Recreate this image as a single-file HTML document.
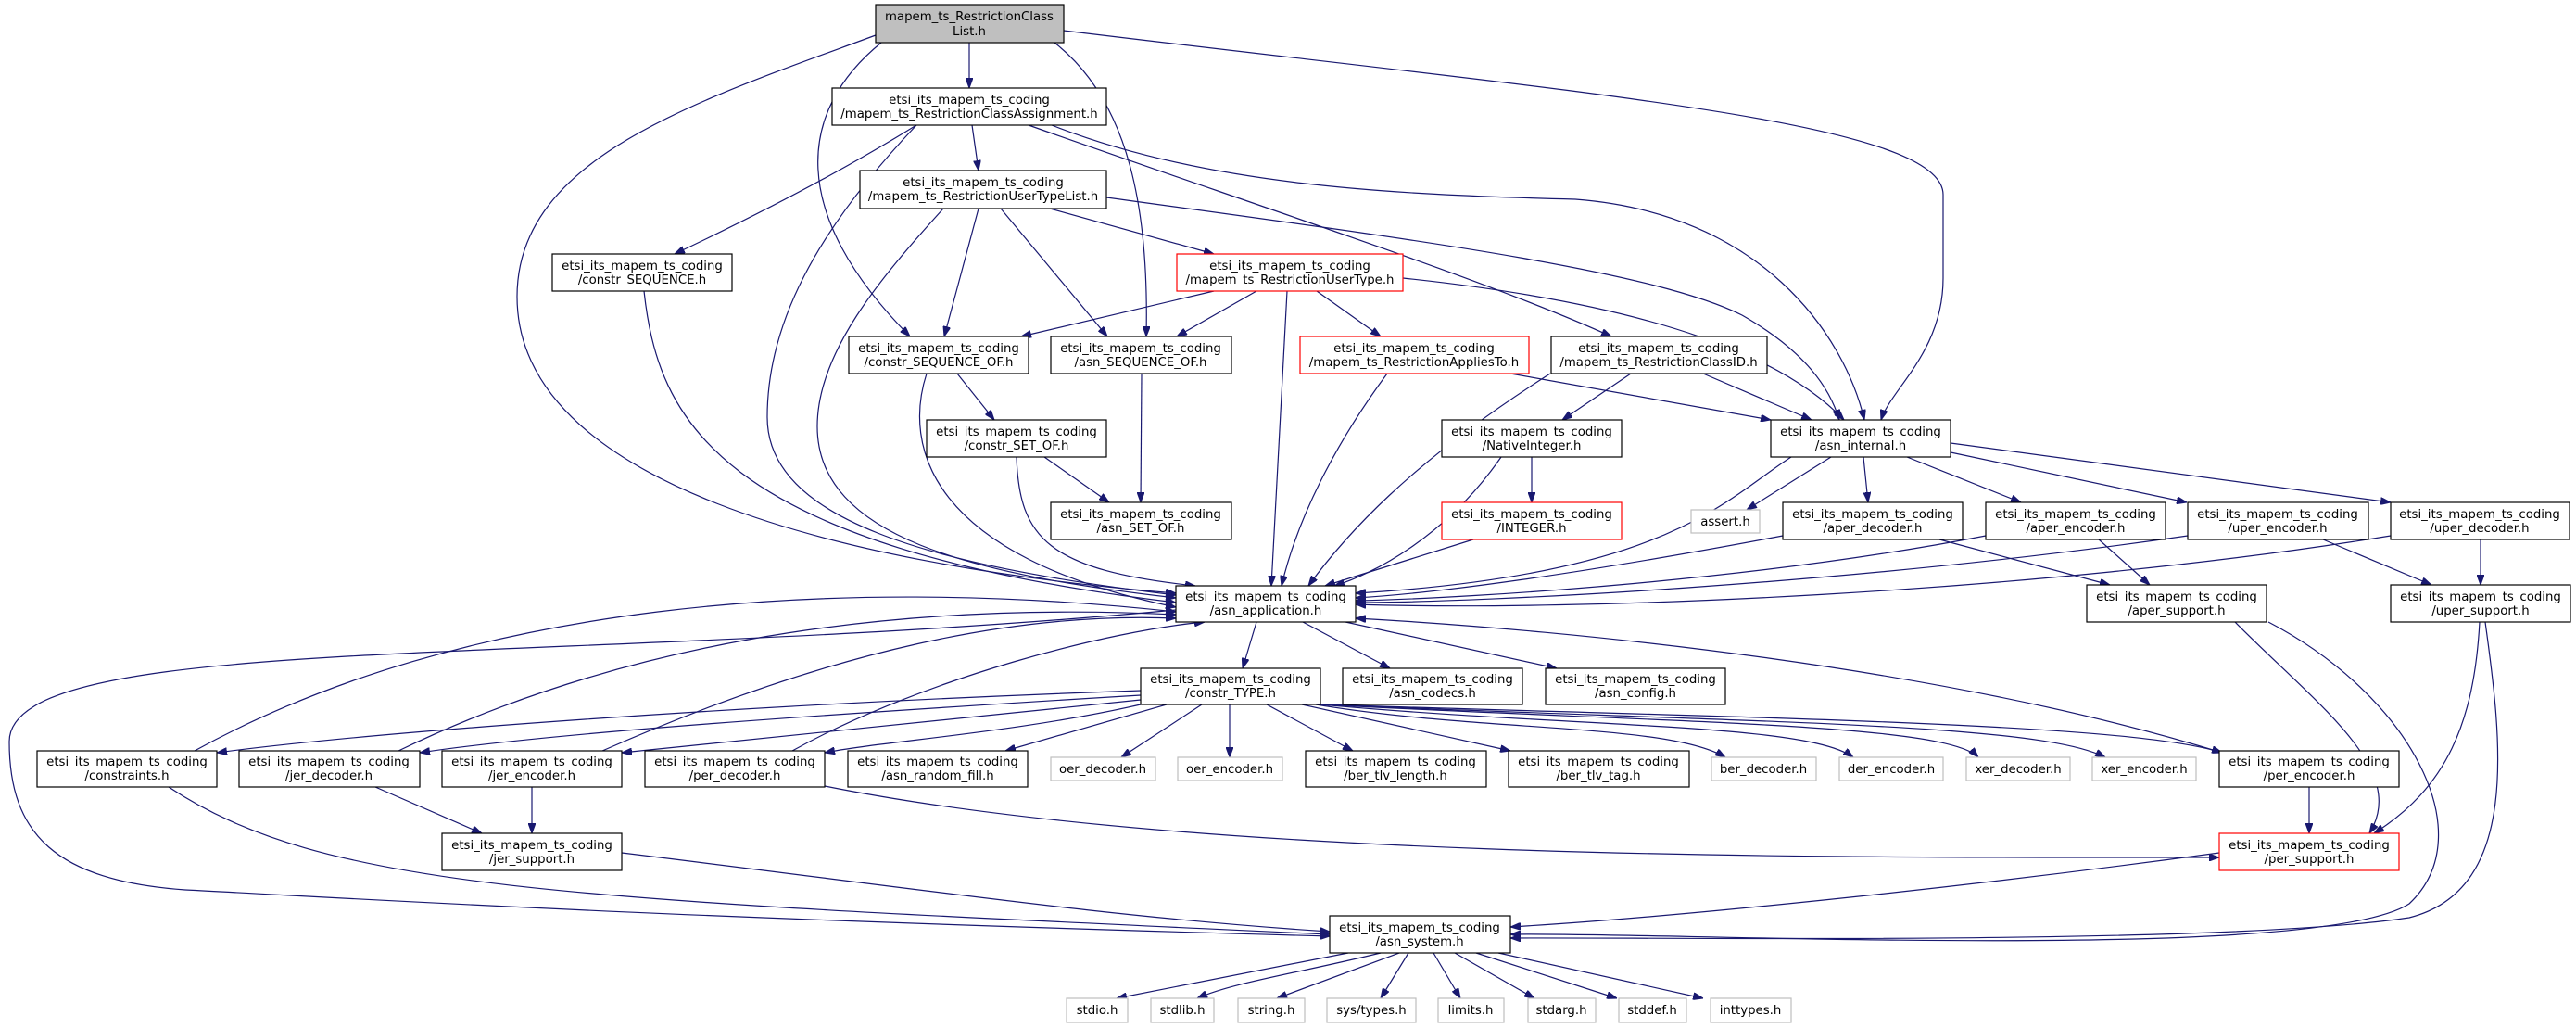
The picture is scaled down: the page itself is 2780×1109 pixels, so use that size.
<!DOCTYPE html>
<html><head><meta charset="utf-8"><style>
html,body{margin:0;padding:0;background:#fff;}
svg{display:block;}
text{font-family:"DejaVu Sans","Liberation Sans",sans-serif;font-size:13.3px;fill:#000;}
.n{fill:#fff;stroke:#000;stroke-width:1.2;}
.g{fill:#fff;stroke:#bfbfbf;stroke-width:1.2;}
.r{fill:#fff;stroke:#ff0000;stroke-width:1.2;}
.root{fill:#bfbfbf;stroke:#000;stroke-width:1.2;}
.e path{fill:none;stroke:#191970;stroke-width:1.2;}
</style></head><body>
<svg width="2780" height="1109" viewBox="0 0 2780 1109" xmlns="http://www.w3.org/2000/svg">
<defs><marker id="a" markerWidth="11" markerHeight="8" refX="11" refY="4" orient="auto" markerUnits="userSpaceOnUse"><path d="M0,0L11,4L0,8z" fill="#191970" stroke="#191970"/></marker></defs>
<g class="e">
<path marker-end="url(#a)" d="M1046,46 L1046,95"/>
<path marker-end="url(#a)" d="M945,38 C750,110 558,170 558,320 C558,520 900,610 1269,640"/>
<path marker-end="url(#a)" d="M951,46 C860,120 850,230 982,363"/>
<path marker-end="url(#a)" d="M1138,46 C1220,110 1240,230 1237,363"/>
<path marker-end="url(#a)" d="M1148,33 C1700,100 2097,130 2097,210 L2097,300 C2097,380 2040,420 2030,453"/>
<path marker-end="url(#a)" d="M989,135 C900,190 800,240 728,274"/>
<path marker-end="url(#a)" d="M989,135 C880,250 828,350 828,450 C828,560 1000,610 1269,642"/>
<path marker-end="url(#a)" d="M1049,135 L1056,184"/>
<path marker-end="url(#a)" d="M1110,135 C1350,220 1600,300 1739,363"/>
<path marker-end="url(#a)" d="M1135,135 C1300,200 1500,210 1700,215 C1900,230 1990,360 2012,453"/>
<path marker-end="url(#a)" d="M1018,225 C950,300 882,380 882,460 C882,580 1050,620 1269,645"/>
<path marker-end="url(#a)" d="M1056,225 L1019,363"/>
<path marker-end="url(#a)" d="M1080,225 L1195,363"/>
<path marker-end="url(#a)" d="M1133,225 L1310,274"/>
<path marker-end="url(#a)" d="M1194,213 C1500,255 1780,290 1880,340 C1950,380 1975,420 1985,453"/>
<path marker-end="url(#a)" d="M1310,314 L1102,363"/>
<path marker-end="url(#a)" d="M1356,314 L1270,363"/>
<path marker-end="url(#a)" d="M1389,314 L1372,632"/>
<path marker-end="url(#a)" d="M1421,314 L1490,363"/>
<path marker-end="url(#a)" d="M1514,300 C1800,330 1930,390 1990,453"/>
<path marker-end="url(#a)" d="M695,314 C710,450 770,590 1269,650"/>
<path marker-end="url(#a)" d="M1033,403 L1073,453"/>
<path marker-end="url(#a)" d="M1000,403 C975,480 1000,600 1269,655"/>
<path marker-end="url(#a)" d="M1232,403 L1231,542"/>
<path marker-end="url(#a)" d="M1127,493 L1197,542"/>
<path marker-end="url(#a)" d="M1097,493 C1100,580 1130,615 1290,632"/>
<path marker-end="url(#a)" d="M1497,403 C1440,480 1400,560 1383,632"/>
<path marker-end="url(#a)" d="M1630,403 L1911,453"/>
<path marker-end="url(#a)" d="M1673,403 C1520,500 1450,580 1412,632"/>
<path marker-end="url(#a)" d="M1760,403 L1686,453"/>
<path marker-end="url(#a)" d="M1838,403 L1955,453"/>
<path marker-end="url(#a)" d="M1653,493 L1653,542"/>
<path marker-end="url(#a)" d="M1620,493 C1560,580 1480,620 1440,632"/>
<path marker-end="url(#a)" d="M1590,582 L1430,632"/>
<path marker-end="url(#a)" d="M1933,493 C1860,540 1800,620 1463,640"/>
<path marker-end="url(#a)" d="M1976,493 L1885,550"/>
<path marker-end="url(#a)" d="M2011,493 L2016,542"/>
<path marker-end="url(#a)" d="M2058,493 L2181,542"/>
<path marker-end="url(#a)" d="M2105,488 L2360,542"/>
<path marker-end="url(#a)" d="M2105,478 L2580,542"/>
<path marker-end="url(#a)" d="M1924,578 C1700,620 1550,640 1463,645"/>
<path marker-end="url(#a)" d="M2093,582 L2277,631"/>
<path marker-end="url(#a)" d="M2143,578 C1900,625 1600,645 1463,648"/>
<path marker-end="url(#a)" d="M2265,582 L2320,631"/>
<path marker-end="url(#a)" d="M2361,578 C2000,630 1600,650 1463,650"/>
<path marker-end="url(#a)" d="M2507,582 L2624,631"/>
<path marker-end="url(#a)" d="M2580,578 C2200,640 1700,660 1463,652"/>
<path marker-end="url(#a)" d="M2677,582 L2677,631"/>
<path marker-end="url(#a)" d="M2412,671 C2500,760 2600,830 2557,899"/>
<path marker-end="url(#a)" d="M2448,671 C2600,750 2680,900 2600,975 C2500,1040 1800,1005 1630,1008"/>
<path marker-end="url(#a)" d="M2676,671 C2670,780 2640,850 2562,899"/>
<path marker-end="url(#a)" d="M2682,671 C2700,800 2720,960 2600,990 C2400,1020 1800,1011 1630,1012"/>
<path marker-end="url(#a)" d="M1356,671 L1341,721"/>
<path marker-end="url(#a)" d="M1406,671 L1500,721"/>
<path marker-end="url(#a)" d="M1452,671 L1680,721"/>
<path marker-end="url(#a)" d="M1269,658 C600,720 10,680 10,800 C10,900 60,950 200,960 C400,970 700,990 1435,1010"/>
<path marker-end="url(#a)" d="M1231,745 C800,760 400,790 234,812"/>
<path marker-end="url(#a)" d="M1231,750 C900,770 600,790 453,812"/>
<path marker-end="url(#a)" d="M1231,755 C1000,780 800,800 671,812"/>
<path marker-end="url(#a)" d="M1231,760 C1100,790 950,800 890,812"/>
<path marker-end="url(#a)" d="M1259,760 L1085,810"/>
<path marker-end="url(#a)" d="M1297,760 L1210,817"/>
<path marker-end="url(#a)" d="M1327,760 L1327,817"/>
<path marker-end="url(#a)" d="M1367,760 L1460,810"/>
<path marker-end="url(#a)" d="M1405,760 L1630,810"/>
<path marker-end="url(#a)" d="M1420,760 C1600,790 1800,780 1862,817"/>
<path marker-end="url(#a)" d="M1425,760 C1700,785 1950,780 2000,817"/>
<path marker-end="url(#a)" d="M1425,760 C1800,780 2100,780 2135,817"/>
<path marker-end="url(#a)" d="M1425,760 C1900,780 2200,780 2272,817"/>
<path marker-end="url(#a)" d="M1425,760 C1900,775 2300,780 2398,812"/>
<path marker-end="url(#a)" d="M210,810 C500,650 900,620 1269,660"/>
<path marker-end="url(#a)" d="M182,849 C350,960 600,970 1435,1008"/>
<path marker-end="url(#a)" d="M430,810 C700,680 1000,650 1269,663"/>
<path marker-end="url(#a)" d="M405,849 L520,899"/>
<path marker-end="url(#a)" d="M650,810 C900,700 1100,660 1269,667"/>
<path marker-end="url(#a)" d="M574,849 L574,899"/>
<path marker-end="url(#a)" d="M855,810 C1000,730 1200,680 1300,671"/>
<path marker-end="url(#a)" d="M890,848 C1300,930 2000,925 2395,925"/>
<path marker-end="url(#a)" d="M2398,812 C2100,720 1700,680 1463,667"/>
<path marker-end="url(#a)" d="M2492,849 L2492,899"/>
<path marker-end="url(#a)" d="M671,920 C1000,960 1200,990 1435,1005"/>
<path marker-end="url(#a)" d="M2395,920 C2100,960 1800,990 1630,1000"/>
<path marker-end="url(#a)" d="M1455,1028 L1205,1077"/>
<path marker-end="url(#a)" d="M1490,1028 C1400,1050 1330,1060 1292,1077"/>
<path marker-end="url(#a)" d="M1510,1028 L1378,1077"/>
<path marker-end="url(#a)" d="M1520,1028 L1490,1077"/>
<path marker-end="url(#a)" d="M1547,1028 L1576,1077"/>
<path marker-end="url(#a)" d="M1570,1028 L1656,1077"/>
<path marker-end="url(#a)" d="M1593,1028 L1745,1077"/>
<path marker-end="url(#a)" d="M1617,1028 L1838,1077"/>
</g>
<g text-anchor="middle">
<rect class="root" x="945" y="5" width="203" height="41"/><text x="1046" y="22">mapem_ts_RestrictionClass</text><text x="1046" y="38">List.h</text>
<rect class="n" x="898" y="95" width="296" height="40"/><text x="1046" y="112">etsi_its_mapem_ts_coding</text><text x="1046" y="127">/mapem_ts_RestrictionClassAssignment.h</text>
<rect class="n" x="928" y="184" width="266" height="41"/><text x="1061" y="201">etsi_its_mapem_ts_coding</text><text x="1061" y="216">/mapem_ts_RestrictionUserTypeList.h</text>
<rect class="n" x="596" y="274" width="194" height="40"/><text x="693" y="291">etsi_its_mapem_ts_coding</text><text x="693" y="306">/constr_SEQUENCE.h</text>
<rect class="r" x="1270" y="274" width="244" height="40"/><text x="1392" y="291">etsi_its_mapem_ts_coding</text><text x="1392" y="306">/mapem_ts_RestrictionUserType.h</text>
<rect class="n" x="916" y="363" width="194" height="40"/><text x="1013" y="380">etsi_its_mapem_ts_coding</text><text x="1013" y="395">/constr_SEQUENCE_OF.h</text>
<rect class="n" x="1134" y="363" width="195" height="40"/><text x="1231" y="380">etsi_its_mapem_ts_coding</text><text x="1231" y="395">/asn_SEQUENCE_OF.h</text>
<rect class="r" x="1403" y="363" width="247" height="40"/><text x="1526" y="380">etsi_its_mapem_ts_coding</text><text x="1526" y="395">/mapem_ts_RestrictionAppliesTo.h</text>
<rect class="n" x="1674" y="363" width="233" height="40"/><text x="1790" y="380">etsi_its_mapem_ts_coding</text><text x="1790" y="395">/mapem_ts_RestrictionClassID.h</text>
<rect class="n" x="1000" y="453" width="194" height="40"/><text x="1097" y="470">etsi_its_mapem_ts_coding</text><text x="1097" y="485">/constr_SET_OF.h</text>
<rect class="n" x="1556" y="453" width="194" height="40"/><text x="1653" y="470">etsi_its_mapem_ts_coding</text><text x="1653" y="485">/NativeInteger.h</text>
<rect class="n" x="1911" y="453" width="194" height="40"/><text x="2008" y="470">etsi_its_mapem_ts_coding</text><text x="2008" y="485">/asn_internal.h</text>
<rect class="n" x="1134" y="542" width="195" height="40"/><text x="1231" y="559">etsi_its_mapem_ts_coding</text><text x="1231" y="574">/asn_SET_OF.h</text>
<rect class="r" x="1556" y="542" width="194" height="40"/><text x="1653" y="559">etsi_its_mapem_ts_coding</text><text x="1653" y="574">/INTEGER.h</text>
<rect class="g" x="1825" y="550" width="74" height="25"/><text x="1862" y="567">assert.h</text>
<rect class="n" x="1924" y="542" width="194" height="40"/><text x="2021" y="559">etsi_its_mapem_ts_coding</text><text x="2021" y="574">/aper_decoder.h</text>
<rect class="n" x="2143" y="542" width="194" height="40"/><text x="2240" y="559">etsi_its_mapem_ts_coding</text><text x="2240" y="574">/aper_encoder.h</text>
<rect class="n" x="2361" y="542" width="195" height="40"/><text x="2458" y="559">etsi_its_mapem_ts_coding</text><text x="2458" y="574">/uper_encoder.h</text>
<rect class="n" x="2580" y="542" width="193" height="40"/><text x="2676" y="559">etsi_its_mapem_ts_coding</text><text x="2676" y="574">/uper_decoder.h</text>
<rect class="n" x="1269" y="632" width="194" height="39"/><text x="1366" y="648">etsi_its_mapem_ts_coding</text><text x="1366" y="663">/asn_application.h</text>
<rect class="n" x="2252" y="631" width="194" height="40"/><text x="2349" y="648">etsi_its_mapem_ts_coding</text><text x="2349" y="663">/aper_support.h</text>
<rect class="n" x="2580" y="631" width="194" height="40"/><text x="2677" y="648">etsi_its_mapem_ts_coding</text><text x="2677" y="663">/uper_support.h</text>
<rect class="n" x="1231" y="721" width="194" height="39"/><text x="1328" y="737">etsi_its_mapem_ts_coding</text><text x="1328" y="752">/constr_TYPE.h</text>
<rect class="n" x="1449" y="721" width="194" height="39"/><text x="1546" y="737">etsi_its_mapem_ts_coding</text><text x="1546" y="752">/asn_codecs.h</text>
<rect class="n" x="1668" y="721" width="194" height="39"/><text x="1765" y="737">etsi_its_mapem_ts_coding</text><text x="1765" y="752">/asn_config.h</text>
<rect class="n" x="40" y="810" width="194" height="39"/><text x="137" y="826">etsi_its_mapem_ts_coding</text><text x="137" y="841">/constraints.h</text>
<rect class="n" x="258" y="810" width="195" height="39"/><text x="355" y="826">etsi_its_mapem_ts_coding</text><text x="355" y="841">/jer_decoder.h</text>
<rect class="n" x="477" y="810" width="194" height="39"/><text x="574" y="826">etsi_its_mapem_ts_coding</text><text x="574" y="841">/jer_encoder.h</text>
<rect class="n" x="696" y="810" width="194" height="39"/><text x="793" y="826">etsi_its_mapem_ts_coding</text><text x="793" y="841">/per_decoder.h</text>
<rect class="n" x="915" y="810" width="194" height="39"/><text x="1012" y="826">etsi_its_mapem_ts_coding</text><text x="1012" y="841">/asn_random_fill.h</text>
<rect class="g" x="1134" y="817" width="113" height="25"/><text x="1190" y="834">oer_decoder.h</text>
<rect class="g" x="1271" y="817" width="113" height="25"/><text x="1327" y="834">oer_encoder.h</text>
<rect class="n" x="1409" y="810" width="195" height="39"/><text x="1506" y="826">etsi_its_mapem_ts_coding</text><text x="1506" y="841">/ber_tlv_length.h</text>
<rect class="n" x="1628" y="810" width="195" height="39"/><text x="1725" y="826">etsi_its_mapem_ts_coding</text><text x="1725" y="841">/ber_tlv_tag.h</text>
<rect class="g" x="1847" y="817" width="113" height="25"/><text x="1903" y="834">ber_decoder.h</text>
<rect class="g" x="1985" y="817" width="112" height="25"/><text x="2041" y="834">der_encoder.h</text>
<rect class="g" x="2122" y="817" width="112" height="25"/><text x="2178" y="834">xer_decoder.h</text>
<rect class="g" x="2258" y="817" width="112" height="25"/><text x="2314" y="834">xer_encoder.h</text>
<rect class="n" x="2395" y="810" width="194" height="39"/><text x="2492" y="826">etsi_its_mapem_ts_coding</text><text x="2492" y="841">/per_encoder.h</text>
<rect class="n" x="477" y="899" width="194" height="40"/><text x="574" y="916">etsi_its_mapem_ts_coding</text><text x="574" y="931">/jer_support.h</text>
<rect class="r" x="2395" y="899" width="194" height="40"/><text x="2492" y="916">etsi_its_mapem_ts_coding</text><text x="2492" y="931">/per_support.h</text>
<rect class="n" x="1435" y="988" width="195" height="40"/><text x="1532" y="1005">etsi_its_mapem_ts_coding</text><text x="1532" y="1020">/asn_system.h</text>
<rect class="g" x="1151" y="1077" width="66" height="26"/><text x="1184" y="1094">stdio.h</text>
<rect class="g" x="1242" y="1077" width="68" height="26"/><text x="1276" y="1094">stdlib.h</text>
<rect class="g" x="1336" y="1077" width="72" height="26"/><text x="1372" y="1094">string.h</text>
<rect class="g" x="1432" y="1077" width="96" height="26"/><text x="1480" y="1094">sys/types.h</text>
<rect class="g" x="1552" y="1077" width="71" height="26"/><text x="1587" y="1094">limits.h</text>
<rect class="g" x="1649" y="1077" width="73" height="26"/><text x="1685" y="1094">stdarg.h</text>
<rect class="g" x="1747" y="1077" width="73" height="26"/><text x="1783" y="1094">stddef.h</text>
<rect class="g" x="1846" y="1077" width="87" height="26"/><text x="1889" y="1094">inttypes.h</text>
</g>
</svg>
</body></html>
